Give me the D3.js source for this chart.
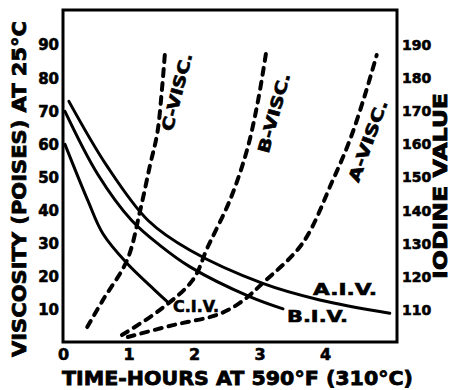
<!DOCTYPE html>
<html>
<head>
<meta charset="utf-8">
<script src="https://cdn.jsdelivr.net/npm/d3@7"></script>
<style>
  html, body { margin: 0; padding: 0; background: #fff; }
  svg { display: block; }
  text { font-family: "DejaVu Sans", sans-serif; font-weight: bold; fill: #000; }
</style>
</head>
<body>
<svg id="chart" width="450" height="390"></svg>
<script>
// ---- data ----
const xTicks = [0, 1, 2, 3, 4];
const leftTicks = [10, 20, 30, 40, 50, 60, 70, 80, 90];
const rightTicks = [110, 120, 130, 140, 150, 160, 170, 180, 190];

// Iodine value curves (right axis)
const aIVHours  = [0.09, 0.67, 1.30, 1.94, 3.05, 3.92, 4.99];
const aIVValues = [173, 153.5, 137, 128, 118, 113, 109];
const bIVHours  = [0.03, 0.53, 1.05, 1.48, 1.94, 2.85, 3.36];
const bIVValues = [170, 151, 137, 129.5, 123, 114, 110.3];
const cIVHours  = [0.03, 0.38, 0.61, 0.98, 1.40, 1.62];
const cIVValues = [160, 143, 133, 124, 116, 112];

// Viscosity curves (left axis)
const aViscHours  = [0.99, 1.68, 2.35, 2.70, 3.05, 3.66, 4.12, 4.38, 4.61, 4.79];
const aViscValues = [1.8, 5.4, 8.5, 12.1, 18.1, 30.2, 49.2, 61.3, 74.9, 87];
const bViscHours  = [0.90, 1.48, 1.98, 2.21, 2.55, 2.81, 2.98, 3.10];
const bViscValues = [2.4, 10, 19, 29, 43.2, 58.3, 73.4, 87.6];
const cViscHours  = [0.37, 0.61, 0.98, 1.18, 1.33, 1.44, 1.51, 1.56];
const cViscValues = [4.8, 13, 25.1, 40.2, 53.8, 63.4, 76.4, 88.5];

const ivLabels   = ["A.I.V.", "B.I.V.", "C.I.V."];
const viscLabels = ["A-VISC.", "B-VISC.", "C-VISC."];

// ---- layout ----
const svg = d3.select("#chart");
const x  = d3.scaleLinear().domain([0, 5.1]).range([63, 397]);
const yL = d3.scaleLinear().domain([0, 100]).range([343, 12]);
const yR = d3.scaleLinear().domain([100, 200]).range([343, 12]);
const frameTop = 10, frameBottom = 342;

svg.append("rect").attr("width", 450).attr("height", 390).attr("fill", "#fff");

// frame
svg.append("rect")
  .attr("x", x(0)).attr("y", frameTop)
  .attr("width", x(5.1) - x(0)).attr("height", frameBottom - frameTop)
  .attr("fill", "none").attr("stroke", "#000").attr("stroke-width", 3);

// axes
function styleAxis(g, size) {
  g.select(".domain").remove();
  g.selectAll("text").style("font-size", size + "px")
    .style("font-family", "'DejaVu Sans', sans-serif").style("font-weight", "bold")
    .attr("fill", "#000").attr("stroke", "#000").attr("stroke-width", 0.6);
}
svg.append("g").attr("transform", `translate(0,${frameBottom})`)
  .call(d3.axisBottom(x).tickValues(xTicks).tickSize(0).tickPadding(7).tickFormat(d3.format("d")))
  .call(g => styleAxis(g, 16));
svg.append("g").attr("transform", `translate(${x(0)},0)`)
  .call(d3.axisLeft(yL).tickValues(leftTicks).tickSize(0).tickPadding(4).tickFormat(d3.format("d")))
  .call(g => styleAxis(g, 15));
svg.append("g").attr("transform", `translate(${x(5.1)},0)`)
  .call(d3.axisRight(yR).tickValues(rightTicks).tickSize(0).tickPadding(5).tickFormat(d3.format("d")))
  .call(g => styleAxis(g, 14));

// curves
const ivLine = d3.line().x(d => x(d[0])).y(d => yR(d[1])).curve(d3.curveCatmullRom);
const viscLine = d3.line().x(d => x(d[0])).y(d => yL(d[1])).curve(d3.curveCatmullRom);
const zip = (a, b) => a.map((v, i) => [v, b[i]]);

[[aIVHours, aIVValues], [bIVHours, bIVValues], [cIVHours, cIVValues]].forEach(([h, v]) => {
  svg.append("path").attr("d", ivLine(zip(h, v)))
    .attr("fill", "none").attr("stroke", "#000").attr("stroke-width", 3).attr("stroke-linecap", "round");
});
[[aViscHours, aViscValues], [bViscHours, bViscValues], [cViscHours, cViscValues]].forEach(([h, v]) => {
  svg.append("path").attr("d", viscLine(zip(h, v)))
    .attr("fill", "none").attr("stroke", "#000").attr("stroke-width", 4)
    .attr("stroke-dasharray", "7,7").attr("stroke-linecap", "round");
});

// curve labels
const ivPos = [[313, 295, 64], [287, 322, 61], [173, 312, 46]];
ivLabels.forEach((t, i) => {
  svg.append("text").attr("x", ivPos[i][0]).attr("y", ivPos[i][1])
    .attr("textLength", ivPos[i][2]).attr("lengthAdjust", "spacingAndGlyphs")
    .style("font-size", "16px").attr("stroke", "#000").attr("stroke-width", 0.6).text(t);
});
const viscPos = [[368, 141, -70, 86], [274, 113, -74.6, 82], [177, 92, -75.4, 80]];
viscLabels.forEach((t, i) => {
  const [cx, cy, a, len] = viscPos[i];
  svg.append("text").attr("transform", `translate(${cx},${cy}) rotate(${a})`)
    .attr("text-anchor", "middle").attr("dominant-baseline", "central")
    .attr("textLength", len).attr("lengthAdjust", "spacingAndGlyphs")
    .style("font-size", "16px").attr("stroke", "#000").attr("stroke-width", 0.6).text(t);
});

// axis titles
svg.append("text").attr("transform", "translate(19,189) rotate(-90)")
  .attr("text-anchor", "middle").attr("dominant-baseline", "central")
  .attr("textLength", 336).attr("lengthAdjust", "spacingAndGlyphs")
  .style("font-size", "20px").attr("stroke", "#000").attr("stroke-width", 0.8)
  .text("VISCOSITY (POISES) AT 25°C");
svg.append("text").attr("transform", "translate(440,186) rotate(-90)")
  .attr("text-anchor", "middle").attr("dominant-baseline", "central")
  .attr("textLength", 186).attr("lengthAdjust", "spacingAndGlyphs")
  .style("font-size", "19px").attr("stroke", "#000").attr("stroke-width", 0.8)
  .text("IODINE VALUE");
svg.append("text").attr("x", 62).attr("y", 385)
  .attr("textLength", 351).attr("lengthAdjust", "spacingAndGlyphs")
  .style("font-size", "20px").attr("stroke", "#000").attr("stroke-width", 0.8)
  .text("TIME-HOURS AT 590°F (310°C)");
</script>
</body>
</html>
